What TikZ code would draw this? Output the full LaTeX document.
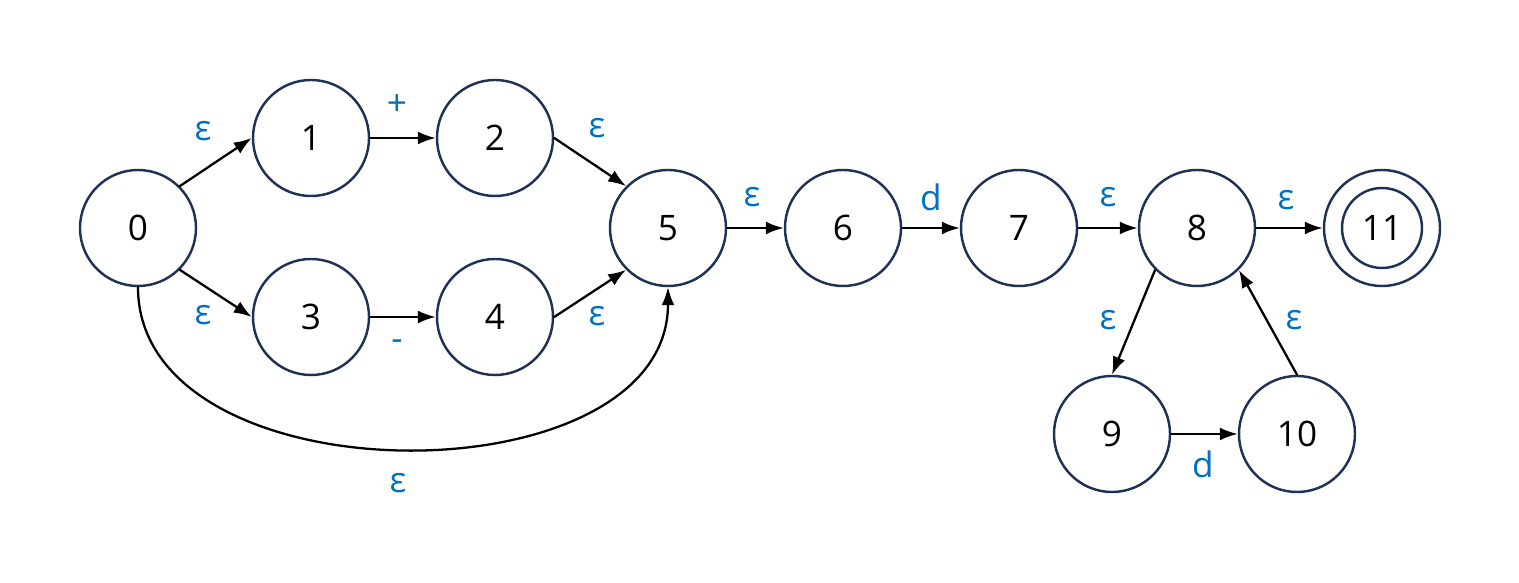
\documentclass[tikz,border=0pt]{standalone}
\usepackage{fontspec}
\setmainfont{Open Sans}
\usetikzlibrary{arrows.meta}
\definecolor{ringC}{RGB}{31,50,85}
\definecolor{lblC}{RGB}{0,112,192}

\begin{document}
\begin{tikzpicture}[>={Latex[length=3.6mm,width=2.6mm]}, line cap=round,
  state/.style={circle, draw=ringC, line width=1.4pt, minimum size=2.32cm, inner sep=0pt, font=\fontsize{20}{24}\selectfont},
  lbl/.style={text=lblC, inner sep=0pt, font=\fontsize{20}{24}\selectfont},
  trans/.style={->, line width=1.3pt}]
\useasboundingbox (0,0) rectangle (30.38,11.66);
% 状态
\node[state] (s0) at (2.76,7.10) {0};
\node[state] (s1) at (6.22,8.90) {1};
\node[state] (s2) at (9.90,8.90) {2};
\node[state] (s3) at (6.22,5.32) {3};
\node[state] (s4) at (9.90,5.32) {4};
\node[state] (s5) at (13.36,7.10) {5};
\node[state] (s6) at (16.86,7.10) {6};
\node[state] (s7) at (20.38,7.10) {7};
\node[state] (s8) at (23.94,7.10) {8};
\node[state] (s9) at (22.24,2.98) {9};
\node[state] (s10) at (25.94,2.98) {10};
\node[state] (s11) at (27.64,7.10) {11};
\draw[ringC, line width=1.4pt] (s11.center) circle (0.8);
% 转移
\draw[trans] (s0.north east) -- (s1.west);
\draw[trans] (s0.south east) -- (s3.west);
\draw[trans] (s1) -- (s2);
\draw[trans] (s3) -- (s4);
\draw[trans] (s2.east) -- (s5.north west);
\draw[trans] (s4.east) -- (s5.south west);
\draw[trans] (s0.south) to[out=-90, in=-90, looseness=1.04] (s5.south);
\draw[trans] (s5) -- (s6);
\draw[trans] (s6) -- (s7);
\draw[trans] (s7) -- (s8);
\draw[trans] (s8) -- (s11);
\draw[trans] (s8.south west) -- (s9.north);
\draw[trans] (s9) -- (s10);
\draw[trans] (s10.north) -- (s8.south east);
% 标签
\node[lbl] (e01) at (4.06,9.04) {ε};
\node[lbl] (e03) at (4.06,5.36) {ε};
\node[lbl] (plus) at (7.94,9.56) {+};
\node[lbl] (minus) at (7.94,4.76) {-};
\node[lbl] (e25) at (11.94,9.10) {ε};
\node[lbl] (e45) at (11.94,5.34) {ε};
\node[lbl] (e05) at (7.96,2.00) {ε};
\node[lbl] (e56) at (15.04,7.72) {ε};
\node[lbl] (d67) at (18.62,7.72) {d};
\node[lbl] (e78) at (22.16,7.72) {ε};
\node[lbl] (e811) at (25.72,7.66) {ε};
\node[lbl] (e89) at (22.16,5.26) {ε};
\node[lbl] (e108) at (25.88,5.26) {ε};
\node[lbl] (d910) at (24.06,2.38) {d};
\end{tikzpicture}
\end{document}
